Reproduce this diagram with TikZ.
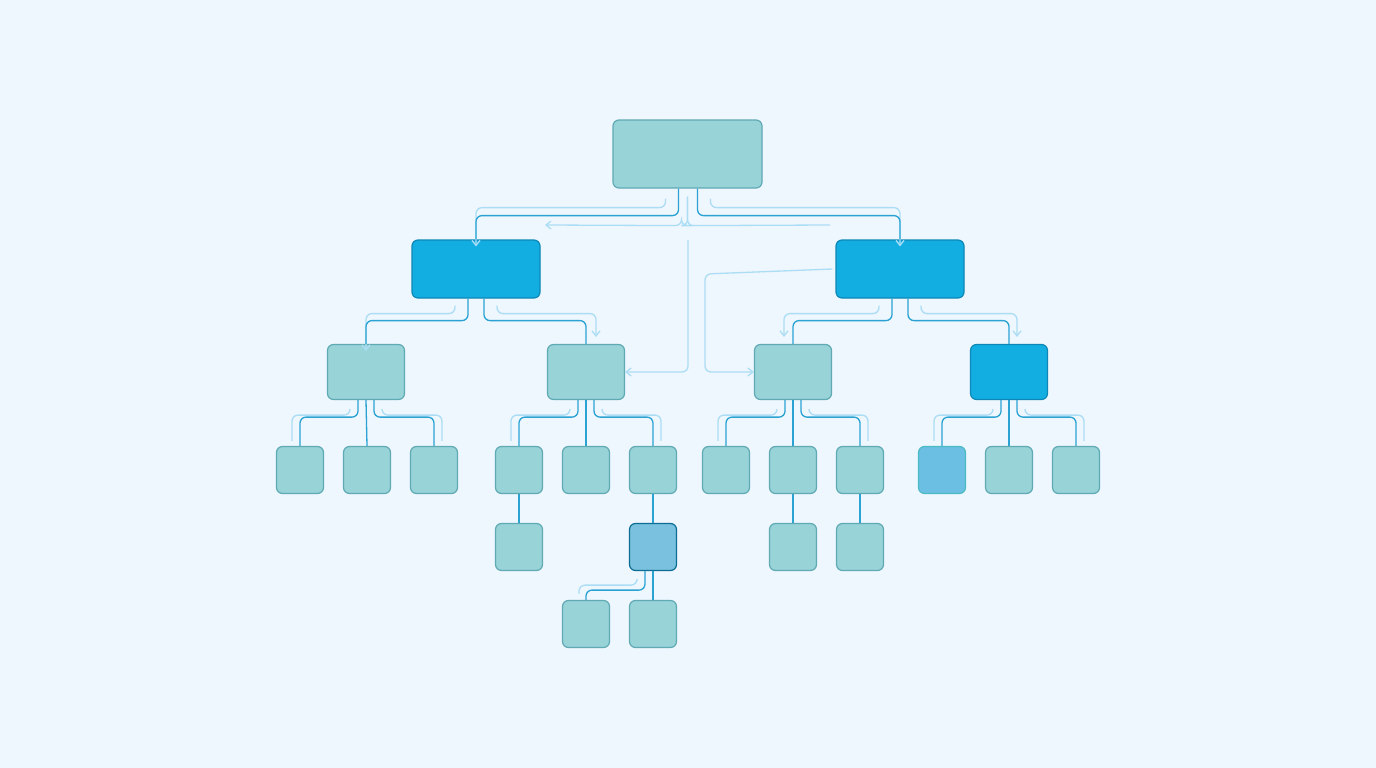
\documentclass[tikz,border=0pt]{standalone}
\usetikzlibrary{arrows.meta}
\definecolor{bgc}{HTML}{EEF6FE}
\definecolor{boxf}{HTML}{98D3D8}
\definecolor{boxd}{HTML}{60AAB4}
\definecolor{hotf}{HTML}{12AEE2}
\definecolor{hotd}{HTML}{0E88B6}
\definecolor{dkl}{HTML}{2AA3D3}
\definecolor{ltl}{HTML}{ABDDF5}
\begin{document}
\begin{tikzpicture}[x=1pt, y=-1pt, >={Straight Barb[length=5pt,width=8pt]}]
\tikzset{
  box/.style={draw=boxd, fill=boxf, line width=1.2pt, rounded corners=6pt, inner sep=0pt},
  hot/.style={box, draw=hotd, fill=hotf},
  big/.style={minimum width=128pt, minimum height=58pt},
  mid/.style={minimum width=77pt, minimum height=55pt},
  leaf/.style={minimum width=47pt, minimum height=47pt},
  dk/.style={draw=dkl, line width=1.3pt, rounded corners=6pt},
  lt/.style={draw=ltl, line width=1.3pt, rounded corners=6pt},
}

\fill [bgc] (0,0) rectangle (1376,768);
\useasboundingbox (0,0) rectangle (1376,768);

% boxes
\node [box, minimum width=149pt, minimum height=68pt] (root) at (687.5,154) {};
\node [hot, big] (lA) at (476,269) {};
\node [hot, big] (rA) at (900,269) {};

\node [box, mid] (lB1) at (366,372) {};
\node [box, mid] (lB2) at (586,372) {};
\node [box, mid] (rB1) at (793,372) {};
\node [hot, mid] (rB2) at (1009,372) {};

\node [box, leaf] (c1)  at (300,470) {};
\node [box, leaf] (c2)  at (367,470) {};
\node [box, leaf] (c3)  at (434,470) {};
\node [box, leaf] (c4)  at (519,470) {};
\node [box, leaf] (c5)  at (586,470) {};
\node [box, leaf] (c6)  at (653,470) {};
\node [box, leaf] (c7)  at (726,470) {};
\node [box, leaf] (c8)  at (793,470) {};
\node [box, leaf] (c9)  at (860,470) {};
\node [box, leaf, fill=cyan!40!boxf, draw=boxd!80!cyan] (c10) at (942,470) {};
\node [box, leaf] (c11) at (1009,470) {};
\node [box, leaf] (c12) at (1076,470) {};

\node [box, leaf] (d1) at (519,547) {};
\node [box, leaf, fill=cyan!30!boxf, draw=hotd!80!black] (d2) at (653,547) {};
\node [box, leaf] (d3) at (793,547) {};
\node [box, leaf] (d4) at (860,547) {};

\node [box, leaf] (e1) at (586,624) {};
\node [box, leaf] (e2) at (653,624) {};

% light guide lines
\draw [lt, ->] ([shift={(-22,10)}]root.south) -- ++(0,9) -| ([yshift=-7]lA.north);
\draw [lt, ->] ([shift={(23,10)}]root.south) -- ++(0,9) -| ([yshift=-7]rA.north);
\draw [lt, ->] ([shift={(0,8)}]root.south) -- ++(0,29) -| ++(-6,0) -- (545,225);
\draw [lt] ([shift={(0,8)}]root.south) -- ++(0,29) -- ++(6,0) -- (830,225);
\coordinate (midl) at (688,240);
\draw [lt, ->] (midl) |- (lB2.east);
\draw [lt, ->] ([xshift=-3]rA.west) -- (705,274) |- (rB1.west);

\draw [lt, ->] ([shift={(-21,7)}]lA.south) -- ++(0,8) -| ([yshift=-7]lB1.north);
\draw [lt, ->] ([shift={(21,7)}]lA.south) -- ++(0,8) -| ([shift={(10,-7)}]lB2.north);
\draw [lt, ->] ([shift={(-21,7)}]rA.south) -- ++(0,8) -| ([shift={(-9,-7)}]rB1.north);
\draw [lt, ->] ([shift={(21,7)}]rA.south) -- ++(0,8) -| ([shift={(8,-7)}]rB2.north);

\foreach \p/\a/\b in {lB1/c1/c3, lB2/c4/c6, rB1/c7/c9, rB2/c10/c12}{
  \draw [lt] ([shift={(-16,10)}]\p.south) -- ++(0,5) -| ([shift={(-8,-5)}]\a.north);
  \draw [lt] ([shift={(16,10)}]\p.south) -- ++(0,5) -| ([shift={(8,-5)}]\b.north);
}
\draw [lt] ([shift={(-16,10)}]d2.south) -- ++(0,4) -| ([shift={(-7,-6)}]e1.north);

% tree connectors
\draw [dk] ([xshift=-9]root.south) -- ++(0,27) -| (lA.north);
\draw [dk] ([xshift=10]root.south) -- ++(0,27) -| (rA.north);

\draw [dk] ([xshift=-8]lA.south) -- ++(0,22) -| (lB1.north);
\draw [dk] ([xshift=8]lA.south) -- ++(0,22) -| (lB2.north);
\draw [dk] ([xshift=-8]rA.south) -- ++(0,22) -| (rB1.north);
\draw [dk] ([xshift=8]rA.south) -- ++(0,22) -| (rB2.north);

\foreach \p/\a/\m/\b in {lB1/c1/c2/c3, lB2/c4/c5/c6, rB1/c7/c8/c9, rB2/c10/c11/c12}{
  \draw [dk] ([xshift=-8]\p.south) -- ++(0,17) -| (\a.north);
  \draw [dk] (\p.south) -- (\m.north);
  \draw [dk] ([xshift=8]\p.south) -- ++(0,17) -| (\b.north);
}

\draw [dk] (c4) -- (d1);
\draw [dk] (c6) -- (d2);
\draw [dk] (c8) -- (d3);
\draw [dk] (c9) -- (d4);
\draw [dk] ([xshift=-8]d2.south) -- ++(0,19) -| (e1.north);
\draw [dk] (d2) -- (e2);

\end{tikzpicture}
\end{document}
